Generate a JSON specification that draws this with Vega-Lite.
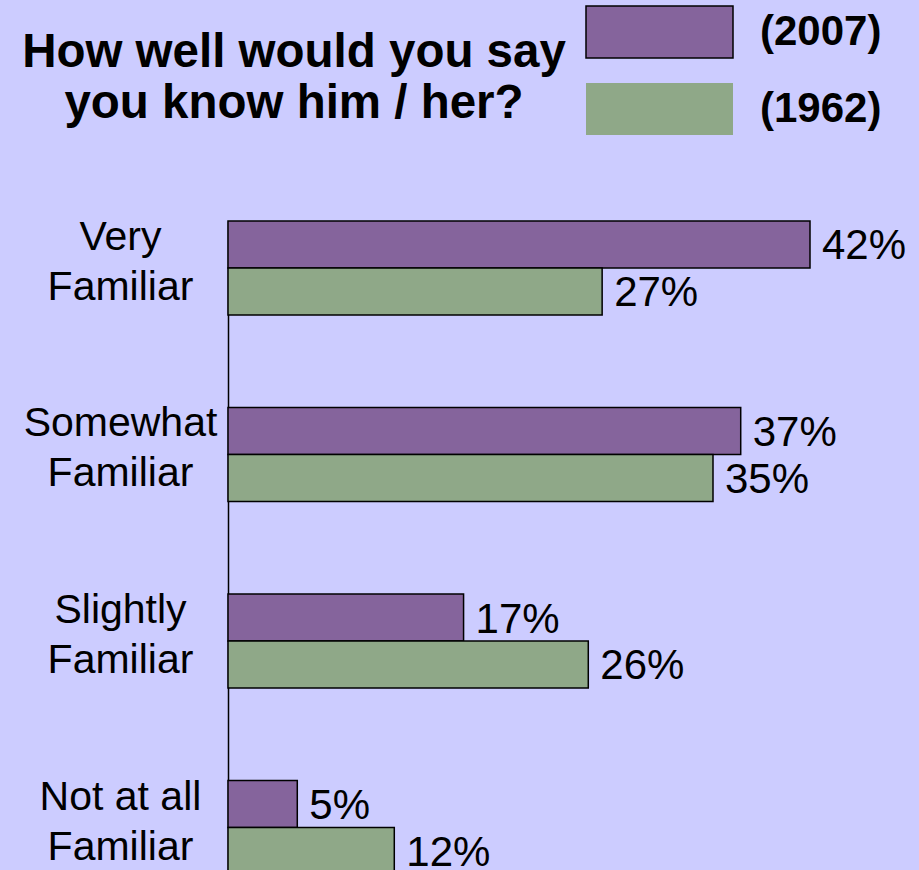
{
  "$schema": "https://vega.github.io/schema/vega-lite/v6.json",
  "width": 582,
  "height": 653.5,
  "autosize": {"type": "none"},
  "padding": {"top": 221, "left": 228, "right": 109, "bottom": 0},
  "background": "#ccccff",
  "config": {"view": {"stroke": null}, "font": "Liberation Sans"},
  "title": {
    "text": ["How well would you say", "you know him / her?"],
    "fontSize": 47.5,
    "fontWeight": "bold",
    "font": "Liberation Sans",
    "color": "black",
    "anchor": "start",
    "align": "center",
    "baseline": "bottom",
    "dx": 66,
    "frame": "group",
    "lineHeight": 51,
    "offset": -170
  },
  "data": {
    "values": [
      {"category": "Very Familiar", "year": "2007", "value": 42, "label": "42%"},
      {"category": "Very Familiar", "year": "1962", "value": 27, "label": "27%"},
      {"category": "Somewhat Familiar", "year": "2007", "value": 37, "label": "37%"},
      {"category": "Somewhat Familiar", "year": "1962", "value": 35, "label": "35%"},
      {"category": "Slightly Familiar", "year": "2007", "value": 17, "label": "17%"},
      {"category": "Slightly Familiar", "year": "1962", "value": 26, "label": "26%"},
      {"category": "Not at all Familiar", "year": "2007", "value": 5, "label": "5%"},
      {"category": "Not at all Familiar", "year": "1962", "value": 12, "label": "12%"}
    ]
  },
  "encoding": {
    "y": {
      "field": "category",
      "type": "nominal",
      "sort": ["Very Familiar", "Somewhat Familiar", "Slightly Familiar", "Not at all Familiar"],
      "scale": {"paddingInner": 0.496, "paddingOuter": 0},
      "axis": {
        "title": null,
        "domain": true,
        "domainColor": "black",
        "domainWidth": 1.5,
        "ticks": false,
        "grid": false,
        "labelFontSize": 41,
        "labelFont": "Liberation Sans",
        "labelColor": "black",
        "labelAlign": "center",
        "labelBaseline": "middle",
        "labelPadding": 108,
        "labelLineHeight": 50,
        "labelOffset": -30,
        "labelLimit": 0,
        "labelExpr": "[replace(datum.label, ' Familiar', ''), 'Familiar']"
      }
    },
    "yOffset": {
      "field": "year",
      "type": "nominal",
      "sort": ["2007", "1962"],
      "scale": {"paddingInner": 0, "paddingOuter": 0}
    },
    "x": {
      "field": "value",
      "type": "quantitative",
      "scale": {"domain": [0, 42], "nice": false, "zero": true},
      "axis": null
    }
  },
  "layer": [
    {
      "mark": {"type": "bar", "stroke": "black", "strokeWidth": 1.5},
      "encoding": {
        "color": {
          "field": "year",
          "type": "nominal",
          "sort": ["2007", "1962"],
          "scale": {"domain": ["2007", "1962"], "range": ["#85649c", "#8fa888"]},
          "legend": {
            "orient": "none",
            "legendX": 404.5,
            "legendY": -216,
            "title": null,
            "padding": 0,
            "symbolType": "M-2.827,-1H2.827V1H-2.827Z",
            "symbolSize": 2704,
            "symbolStrokeWidth": 1.5,
            "symbolStrokeColor": "black",
            "symbolOpacity": 1,
            "labelFontSize": 42,
            "labelFontWeight": "bold",
            "labelFont": "Liberation Sans",
            "labelColor": "black",
            "labelOffset": 73.5,
            "labelLimit": 0,
            "rowPadding": 19,
            "labelExpr": "'(' + datum.label + ')'",
            "encode": {
              "symbols": {
                "update": {
                  "stroke": {"signal": "datum.value == '2007' ? 'black' : 'transparent'"}
                }
              }
            }
          }
        }
      }
    },
    {
      "mark": {"type": "text", "align": "left", "baseline": "middle", "dx": 12, "dy": 2, "fontSize": 42, "font": "Liberation Sans", "color": "black"},
      "encoding": {"text": {"field": "label", "type": "nominal"}}
    }
  ]
}
